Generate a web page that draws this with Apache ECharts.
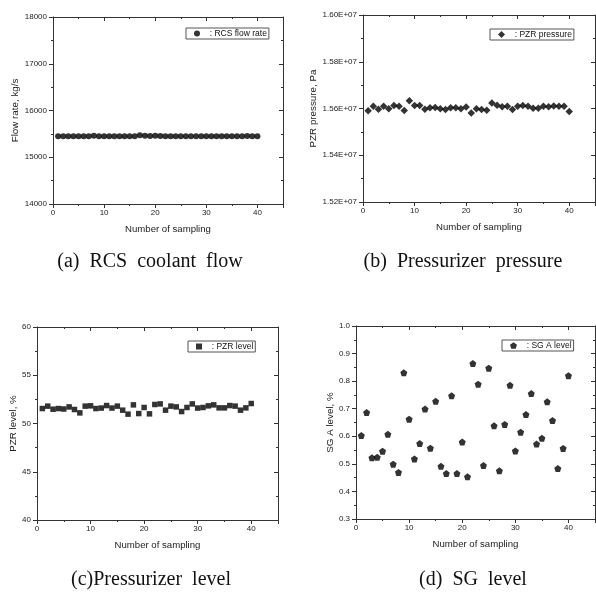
<!DOCTYPE html>
<html>
<head>
<meta charset="utf-8">
<script src="https://cdn.jsdelivr.net/npm/echarts@6/dist/echarts.min.js"></script>
<style>
html,body{margin:0;padding:0;background:#fff;}
#chart{width:596px;height:592px;}
</style>
</head>
<body>
<div id="chart"></div>
<script>
// ---- data ----
const samples = [1,2,3,4,5,6,7,8,9,10,11,12,13,14,15,16,17,18,19,20,21,22,23,24,25,26,27,28,29,30,31,32,33,34,35,36,37,38,39,40];

const rcsFlow = [15450,15450,15450,15450,15450,15450,15450,15462,15450,15450,
                 15450,15450,15450,15450,15450,15450,15472,15458,15455,15458,
                 15455,15448,15448,15448,15448,15448,15448,15448,15448,15448,
                 15448,15448,15448,15448,15448,15448,15448,15455,15448,15448];

const pzrPressure = [15590000,15610000,15597000,15610000,15598500,15613000,15610000,15591000,15633000,15613000,
                     15613000,15597000,15603000,15604000,15598500,15596000,15603000,15603000,15598500,15606000,
                     15581000,15598500,15596000,15593000,15624000,15614000,15607000,15610000,15596000,15610000,
                     15613000,15610000,15601000,15601000,15610000,15607000,15611000,15610000,15610000,15587000];

const pzrLevel = [51.55,51.8,51.48,51.55,51.5,51.72,51.45,51.1,51.8,51.83,
                  51.55,51.6,51.86,51.6,51.8,51.38,50.97,51.93,51.03,51.66,
                  51.0,51.97,52.03,51.38,51.8,51.72,51.24,51.66,52.03,51.6,
                  51.66,51.83,51.93,51.62,51.62,51.86,51.8,51.38,51.62,52.07];

const sgLevel = [0.603,0.686,0.522,0.524,0.546,0.607,0.499,0.469,0.830,0.662,
                 0.518,0.574,0.699,0.557,0.727,0.491,0.465,0.747,0.465,0.579,
                 0.453,0.864,0.789,0.494,0.847,0.638,0.475,0.643,0.785,0.547,
                 0.615,0.679,0.755,0.572,0.593,0.725,0.657,0.483,0.556,0.820];

const seriesNames = ['RCS flow rate', 'PZR pressure', 'PZR level', 'SG A level'];
const yTitles = ['Flow rate, kg/s', 'PZR pressure, Pa', 'PZR level, %', 'SG A level, %'];
const xTitle = 'Number of sampling';
const captions = ['(a)  RCS  coolant  flow', '(b)  Pressurizer  pressure', '(c)Pressurizer  level', '(d)  SG  level'];
const yRanges = [[14000,18000,1000],[15200000,16000000,200000],[40,60,5],[0.3,1.0,0.1]];
const xRange = [0,45,10];

// ---- layout ----
const grids = [
  {left:53, top:17, width:230, height:187},
  {left:363, top:15, width:232, height:187},
  {left:37, top:327, width:241, height:193},
  {left:356, top:326, width:239, height:193}
];
const yNameGaps = [33, 44, 19, 21];
const legendPos = [[186,28],[490,29],[188,341],[502,340]];
const captionPos = [[150,262],[463,262],[151,580],[473,580]];
const symbols = ['circle', 'diamond', 'rect', 'path://M0,-1 L0.951,-0.309 L0.588,0.809 L-0.588,0.809 L-0.951,-0.309 Z'];
const symSizes = [6, 7.5, 5.5, 7];
const legendIcon = [6, 7, 6, 7];
const yFormatters = [
  v => String(Math.round(v)),
  v => (v/1e7).toFixed(2) + 'E+07',
  v => String(Math.round(v)),
  v => v.toFixed(1)
];
const allValues = [rcsFlow, pzrPressure, pzrLevel, sgLevel];

const sans = 'Liberation Sans, Arial, sans-serif';
const axisColor = '#333';

const xAxes = [], yAxes = [], series = [], legends = [];
grids.forEach((g, i) => {
  const yr = yRanges[i];
  xAxes.push({
    gridIndex:i, type:'value', position:'bottom', min:xRange[0], max:xRange[1], interval:xRange[2],
    axisLine:{show:true, onZero:false, lineStyle:{color:axisColor, width:1}},
    axisTick:{show:true, inside:false, length:4, lineStyle:{color:axisColor}},
    minorTick:{show:true, splitNumber:2, length:2, lineStyle:{color:axisColor}},
    splitLine:{show:false},
    axisLabel:{fontSize:8, color:'#222', margin:5, fontFamily:sans, showMaxLabel:false,
               formatter: v => (v > 40 ? '' : String(v))},
    name:xTitle, nameLocation:'middle', nameGap:20,
    nameTextStyle:{fontSize:9.6, color:'#222', fontFamily:sans}
  });
  xAxes.push({
    gridIndex:i, type:'value', position:'top', min:xRange[0], max:xRange[1], interval:xRange[2],
    axisLine:{show:true, onZero:false, lineStyle:{color:axisColor, width:1}},
    axisTick:{show:true, inside:true, length:4, lineStyle:{color:axisColor}},
    minorTick:{show:true, splitNumber:2, length:2, lineStyle:{color:axisColor}},
    splitLine:{show:false}, axisLabel:{show:false}
  });
  yAxes.push({
    gridIndex:i, type:'value', position:'left', min:yr[0], max:yr[1], interval:yr[2],
    axisLine:{show:true, onZero:false, lineStyle:{color:axisColor, width:1}},
    axisTick:{show:true, inside:false, length:4, lineStyle:{color:axisColor}},
    minorTick:{show:true, splitNumber:2, length:2, lineStyle:{color:axisColor}},
    splitLine:{show:false},
    axisLabel:{fontSize:8, color:'#222', margin:6, fontFamily:sans, formatter:yFormatters[i]},
    name:yTitles[i], nameLocation:'middle', nameGap:yNameGaps[i], nameRotate:90,
    nameTextStyle:{fontSize:9.8, color:'#222', fontFamily:sans}
  });
  yAxes.push({
    gridIndex:i, type:'value', position:'right', min:yr[0], max:yr[1], interval:yr[2],
    axisLine:{show:true, onZero:false, lineStyle:{color:axisColor, width:1}},
    axisTick:{show:true, inside:true, length:4, lineStyle:{color:axisColor}},
    minorTick:{show:true, splitNumber:2, length:2, lineStyle:{color:axisColor}},
    splitLine:{show:false}, axisLabel:{show:false}
  });
  series.push({
    type:'scatter', name:seriesNames[i], xAxisIndex:2*i, yAxisIndex:2*i,
    symbol:symbols[i], symbolSize:symSizes[i],
    itemStyle:{color:'#000'},
    data: samples.map((x, k) => [x, allValues[i][k]])
  });
  legends.push({
    data:[{name:seriesNames[i], icon:symbols[i]}],
    left:legendPos[i][0], top:legendPos[i][1],
    orient:'horizontal',
    padding:[1,2,1,8], itemWidth:legendIcon[i], itemHeight:legendIcon[i], itemGap:0,
    symbolKeepAspect:true,
    borderColor:'#555', borderWidth:1, borderRadius:0, backgroundColor:'#fff',
    formatter: name => '  : ' + name,
    selectedMode:false,
    textStyle:{fontSize:8.5, lineHeight:9, color:'#111', fontFamily:sans},
    itemStyle:{color:'#000'}
  });
});

const graphics = captions.map((t, i) => ({
  type:'text', x:captionPos[i][0], y:captionPos[i][1],
  style:{text:t, fill:'#111', font:'20px "Liberation Serif", "Times New Roman", serif',
         textAlign:'center', textVerticalAlign:'middle'}
}));

const chart = echarts.init(document.getElementById('chart'), null, {renderer:'canvas'});
chart.setOption({
  backgroundColor:'#fff',
  animation:false,
  grid:grids,
  xAxis:xAxes,
  yAxis:yAxes,
  legend:legends,
  series:series,
  graphic:graphics
});
</script>
</body>
</html>
